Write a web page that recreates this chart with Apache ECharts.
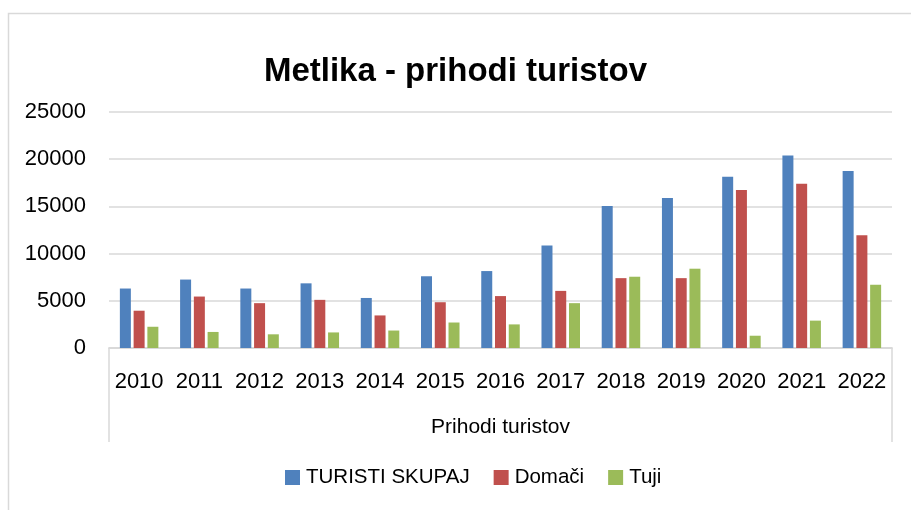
<!DOCTYPE html>
<html>
<head>
<meta charset="utf-8">
<style>
  html, body { margin: 0; padding: 0; background: #ffffff; }
  #chart { width: 911px; height: 510px; }
</style>
<script src="https://cdn.jsdelivr.net/npm/echarts@6/dist/echarts.min.js"></script>
</head>
<body>
<div id="chart"></div>
<script>
// Tourist arrivals in Metlika, 2010–2022
const years = ['2010', '2011', '2012', '2013', '2014', '2015', '2016', '2017', '2018', '2019', '2020', '2021', '2022'];
const seriesNames = ['TURISTI SKUPAJ', 'Domači', 'Tuji'];
const turistiSkupaj = [6300, 7250, 6300, 6850, 5300, 7600, 8150, 10850, 15050, 15900, 18150, 20400, 18750];
const domaci = [3950, 5450, 4750, 5100, 3450, 4850, 5500, 6050, 7400, 7400, 16750, 17400, 11950];
const tuji = [2250, 1700, 1450, 1650, 1850, 2700, 2500, 4750, 7550, 8400, 1300, 2900, 6700];
const groupLabel = ['Prihodi turistov'];
const yTicks = { min: 0, max: 25000, interval: 5000 };

const colors = ['#4F81BD', '#C0504D', '#9BBB59'];
const font = 'Liberation Sans, Arial, sans-serif';
const gridColor = '#d9d9d9';

const chart = echarts.init(document.getElementById('chart'), null, { renderer: 'canvas' });

const values = [turistiSkupaj, domaci, tuji];

chart.setOption({
  animation: false,
  backgroundColor: '#ffffff',
  color: colors,
  title: {
    text: 'Metlika - prihodi turistov',
    left: 'center',
    top: 50,
    textStyle: { fontFamily: font, fontSize: 33, fontWeight: 'bold', color: '#000000' }
  },
  graphic: [{
    type: 'rect',
    shape: { x: 8.5, y: 13.5, width: 940, height: 540 },
    style: { fill: 'none', stroke: gridColor, lineWidth: 1.5 },
    silent: true
  }],
  legend: {
    data: seriesNames,
    bottom: 17,
    left: 280,
    itemWidth: 15,
    itemHeight: 15,
    itemGap: 24,
    icon: 'rect',
    textStyle: { fontFamily: font, fontSize: 20.5, color: '#000000', padding: [0, 0, 0, 1] }
  },
  grid: { left: 109, right: 19, top: 112, bottom: 162, containLabel: false },
  xAxis: [{
    type: 'category',
    data: years,
    position: 'bottom',
    axisLine: { show: true, lineStyle: { color: gridColor, width: 1.5 } },
    axisTick: { show: false },
    axisLabel: { fontFamily: font, fontSize: 22, color: '#000000', margin: 23, interval: 0 }
  }, {
    type: 'category',
    data: groupLabel,
    position: 'bottom',
    boundaryGap: true,
    axisLine: { show: true, lineStyle: { color: gridColor, width: 1.5 } },
    axisTick: { show: true, length: 94, alignWithLabel: false, lineStyle: { color: gridColor, width: 1.5 } },
    axisLabel: { fontFamily: font, fontSize: 21, color: '#000000', margin: 69 }
  }],
  yAxis: {
    type: 'value',
    min: yTicks.min,
    max: yTicks.max,
    interval: yTicks.interval,
    axisLine: { show: false },
    axisTick: { show: false },
    axisLabel: {
      fontFamily: font, fontSize: 22, color: '#000000', margin: 23,
      formatter: (v) => String(v)
    },
    splitLine: { lineStyle: { color: gridColor, width: 1.5 } }
  },
  series: seriesNames.map((name, i) => ({
    name: name,
    type: 'bar',
    xAxisIndex: 0,
    data: values[i],
    barWidth: 11,
    barGap: '25%',
    itemStyle: { color: colors[i] }
  }))
});
</script>
</body>
</html>
